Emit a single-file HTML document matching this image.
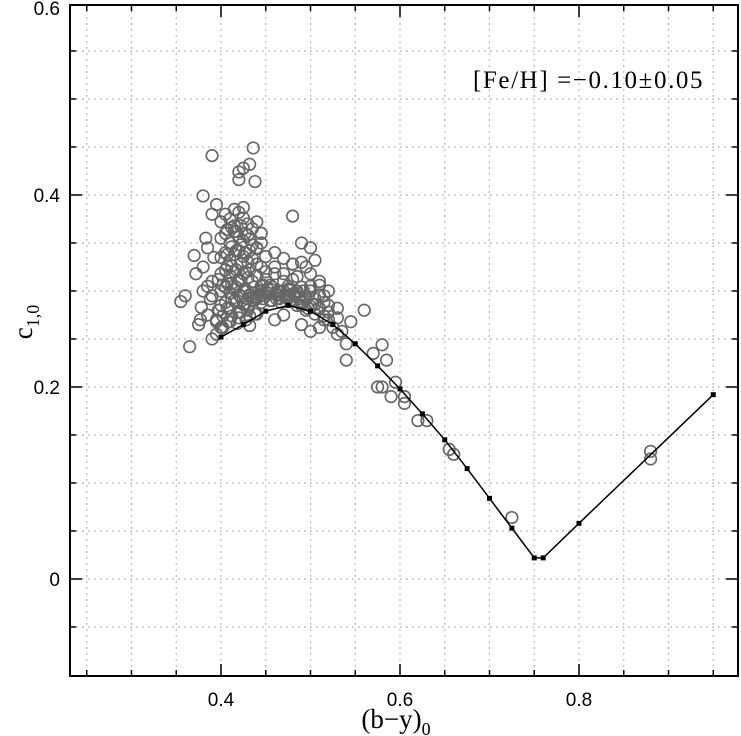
<!DOCTYPE html>
<html><head><meta charset="utf-8"><style>
html,body{margin:0;padding:0;background:#fff;}
svg{display:block;font-family:"Liberation Sans",sans-serif;}
</style></head><body>
<svg id="chart" width="741" height="736" viewBox="0 0 741 736" xmlns="http://www.w3.org/2000/svg">
<g id="grid"></g>
<g id="scatter"></g>
<g id="curve"></g>
<g id="axes"></g>
<text x="473" y="88" font-size="25" letter-spacing="1.6" font-family="Liberation Serif,serif" fill="#000">[Fe/H] =−0.10±0.05</text>
<text x="396" y="728" font-size="27" text-anchor="middle" font-family="Liberation Serif,serif">(b−y)<tspan font-size="18" dy="7">0</tspan></text>
<text transform="translate(32,322) rotate(-90)" font-size="27" text-anchor="middle" font-family="Liberation Serif,serif">c<tspan font-size="18" dy="7">1,0</tspan></text>
</svg>
<script>
const xTicks=[0.4,0.6,0.8];
const yTicks=[0,0.2,0.4,0.6];
const curveX=[0.4,0.425,0.45,0.475,0.5,0.525,0.55,0.575,0.6,0.625,0.65,0.675,0.7,0.725,0.75,0.76,0.8,0.95];
const curveY=[0.252,0.265,0.279,0.285,0.279,0.265,0.245,0.222,0.198,0.172,0.145,0.115,0.084,0.053,0.022,0.022,0.058,0.192];
const starX=[0.39,0.436,0.42,0.425,0.42,0.432,0.438,0.38,0.395,0.39,0.48,0.415,0.425,
0.355,0.36,0.365,0.375,0.377,0.385,0.39,0.395,0.38,0.37,0.385,0.38,0.39,0.372,0.378,0.388,0.383,0.392,
0.52,0.53,0.54,0.54,0.545,0.56,0.57,0.575,0.58,0.58,0.585,0.59,0.595,0.605,0.605,0.62,0.63,0.655,0.66,0.725,0.88,0.88,
0.40,0.405,0.41,0.415,0.42,0.425,0.43,0.435,0.44,0.445,0.40,0.405,0.41,0.415,0.42,0.425,0.43,0.435,0.44,0.445,
0.40,0.405,0.41,0.415,0.42,0.425,0.43,0.435,0.44,0.445,0.40,0.405,0.41,0.415,0.42,0.425,0.43,0.435,0.44,0.445,
0.40,0.405,0.41,0.415,0.42,0.425,0.43,0.435,0.44,0.445,0.40,0.405,0.41,0.415,0.42,0.425,0.43,0.435,0.44,0.445,
0.45,0.455,0.46,0.465,0.47,0.475,0.48,0.485,0.49,0.495,0.50,0.505,0.51,0.515,0.45,0.455,0.46,0.465,0.47,0.475,
0.48,0.485,0.49,0.495,0.50,0.505,0.51,0.515,0.52,0.45,0.46,0.47,0.48,0.49,0.50,0.51,0.455,0.465,0.475,0.485,
0.495,0.505,0.515,0.525,0.53,0.535,0.52,0.51,0.50,0.49,0.395,0.398,0.402,0.408,0.412,0.418,0.422,0.428,0.432,0.438,
0.44,0.45,0.46,0.47,0.48,0.49,0.385,0.39,0.395,0.4,0.41,0.42,0.43,0.44,0.46,0.47,0.49,0.5,0.505,0.51,0.495,0.485,0.5,0.515,0.52,0.53,
0.412,0.417,0.422,0.427,0.412,0.417,0.422,0.427,0.412,0.417,0.422,0.427,0.412,0.417,0.422,0.427,0.412,0.417,0.422,0.427,
0.407,0.432,0.407,0.432,0.407,0.432,0.407,0.432,0.407,0.432,0.437,0.442,0.447,0.452,0.437,0.442,0.447,0.452,0.457,0.462,
0.467,0.472,0.477,0.482,0.487,0.492,0.457,0.462,0.467,0.472,0.477,0.482,0.487,0.492,0.497,0.502,0.397,0.402,0.397,0.402];
const starY=[0.441,0.449,0.424,0.428,0.416,0.432,0.414,0.399,0.390,0.380,0.378,0.385,0.387,
0.289,0.295,0.242,0.265,0.270,0.275,0.250,0.255,0.300,0.337,0.345,0.325,0.310,0.318,0.283,0.292,0.355,0.335,
0.270,0.255,0.245,0.228,0.268,0.280,0.235,0.200,0.200,0.244,0.228,0.190,0.205,0.183,0.190,0.165,0.165,0.135,0.130,0.064,0.133,0.125,
0.372,0.380,0.375,0.368,0.382,0.376,0.370,0.365,0.372,0.360,0.355,0.360,0.350,0.362,0.356,0.352,0.358,0.348,0.345,0.350,
0.335,0.340,0.332,0.338,0.342,0.336,0.330,0.334,0.328,0.325,0.318,0.322,0.316,0.320,0.312,0.318,0.314,0.310,0.316,0.305,
0.300,0.304,0.298,0.302,0.296,0.300,0.292,0.298,0.294,0.300,0.285,0.288,0.282,0.290,0.278,0.286,0.284,0.290,0.292,0.288,
0.312,0.306,0.318,0.300,0.310,0.302,0.312,0.298,0.304,0.294,0.300,0.292,0.296,0.288,0.295,0.290,0.298,0.292,0.300,0.294,
0.290,0.285,0.288,0.280,0.284,0.276,0.282,0.274,0.278,0.320,0.325,0.318,0.328,0.330,0.318,0.306,0.302,0.296,0.305,0.300,
0.292,0.286,0.270,0.262,0.272,0.258,0.300,0.262,0.258,0.265,0.270,0.280,0.262,0.268,0.274,0.266,0.278,0.270,0.264,0.276,
0.344,0.336,0.340,0.334,0.328,0.350,0.305,0.295,0.268,0.262,0.268,0.272,0.280,0.276,0.270,0.275,0.285,0.345,0.332,0.310,0.325,0.315,0.305,0.295,0.285,0.282,
0.366,0.362,0.368,0.360,0.346,0.342,0.348,0.340,0.326,0.322,0.328,0.320,0.308,0.304,0.310,0.302,0.292,0.288,0.294,0.286,
0.364,0.354,0.338,0.322,0.308,0.296,0.282,0.274,0.326,0.342,0.304,0.300,0.306,0.302,0.290,0.296,0.292,0.298,0.304,0.296,
0.300,0.296,0.302,0.298,0.294,0.300,0.290,0.292,0.288,0.294,0.290,0.296,0.292,0.288,0.282,0.286,0.312,0.306,0.280,0.274];
const NS='http://www.w3.org/2000/svg';
const L=70,R=738,T=5,B=676;
const sx=v=>221+(v-0.4)*895;
const sy=v=>579-v*960;
function mk(tag,attrs,parent){const e=document.createElementNS(NS,tag);for(const k in attrs)e.setAttribute(k,attrs[k]);parent.appendChild(e);return e;}
const grid=document.getElementById('grid');
for(let v=0.25;v<0.98;v+=0.05){const x=sx(v);
 const g=mk('line',{x1:x,x2:x,y1:T,y2:B,stroke:'#bbb','stroke-width':1.2,'stroke-dasharray':'2,4'},grid);
 
 }
for(let v=-0.05;v<0.6;v+=0.05){const y=sy(v);
 const g=mk('line',{x1:L,x2:R,y1:y,y2:y,stroke:'#bbb','stroke-width':1.2,'stroke-dasharray':'2,4'},grid);
 
 }
const sc=document.getElementById('scatter');
for(let i=0;i<starX.length;i++){
 const c=mk('circle',{cx:sx(starX[i]),cy:sy(starY[i]),r:5.8,fill:'none',stroke:'#666','stroke-width':1.6},sc);
 
 }
const cv=document.getElementById('curve');
const pl=mk('polyline',{points:curveX.map((x,i)=>sx(x)+','+sy(curveY[i])).join(' '),fill:'none',stroke:'#000','stroke-width':1.5},cv);


curveX.forEach((x,i)=>{const r=mk('rect',{x:sx(x)-2.5,y:sy(curveY[i])-2.5,width:5,height:5,fill:'#000'},cv);
 
 });
const ax=document.getElementById('axes');
const fr=mk('rect',{x:L,y:T,width:R-L,height:B-T,fill:'none',stroke:'#000','stroke-width':2},ax);


for(let v=0.25;v<0.98;v+=0.05){const x=sx(v);const major=Math.abs(v*10-Math.round(v*10))<1e-6&&Math.round(v*10)%2===0;const len=major?12:6;
 mk('line',{x1:x,x2:x,y1:B,y2:B-len,stroke:'#000','stroke-width':1.5},ax);
 mk('line',{x1:x,x2:x,y1:T,y2:T+len,stroke:'#000','stroke-width':1.5},ax);}
for(let v=-0.05;v<0.6;v+=0.05){const y=sy(v);const major=Math.abs(v*10-Math.round(v*10))<1e-6&&Math.round(v*10)%2===0;const len=major?12:6;
 mk('line',{x1:L,x2:L+len,y1:y,y2:y,stroke:'#000','stroke-width':1.5},ax);
 mk('line',{x1:R,x2:R-len,y1:y,y2:y,stroke:'#000','stroke-width':1.5},ax);}
xTicks.forEach(v=>{const t=mk('text',{x:sx(v),y:B+30,'font-size':19,'text-anchor':'middle'},ax);t.textContent=String(v);
 
 });
yTicks.forEach(v=>{const yy=Math.max(sy(v)+7,15);const t=mk('text',{x:L-10,y:yy,'font-size':19,'text-anchor':'end'},ax);t.textContent=String(v);
 
 });
</script>
</body></html>
